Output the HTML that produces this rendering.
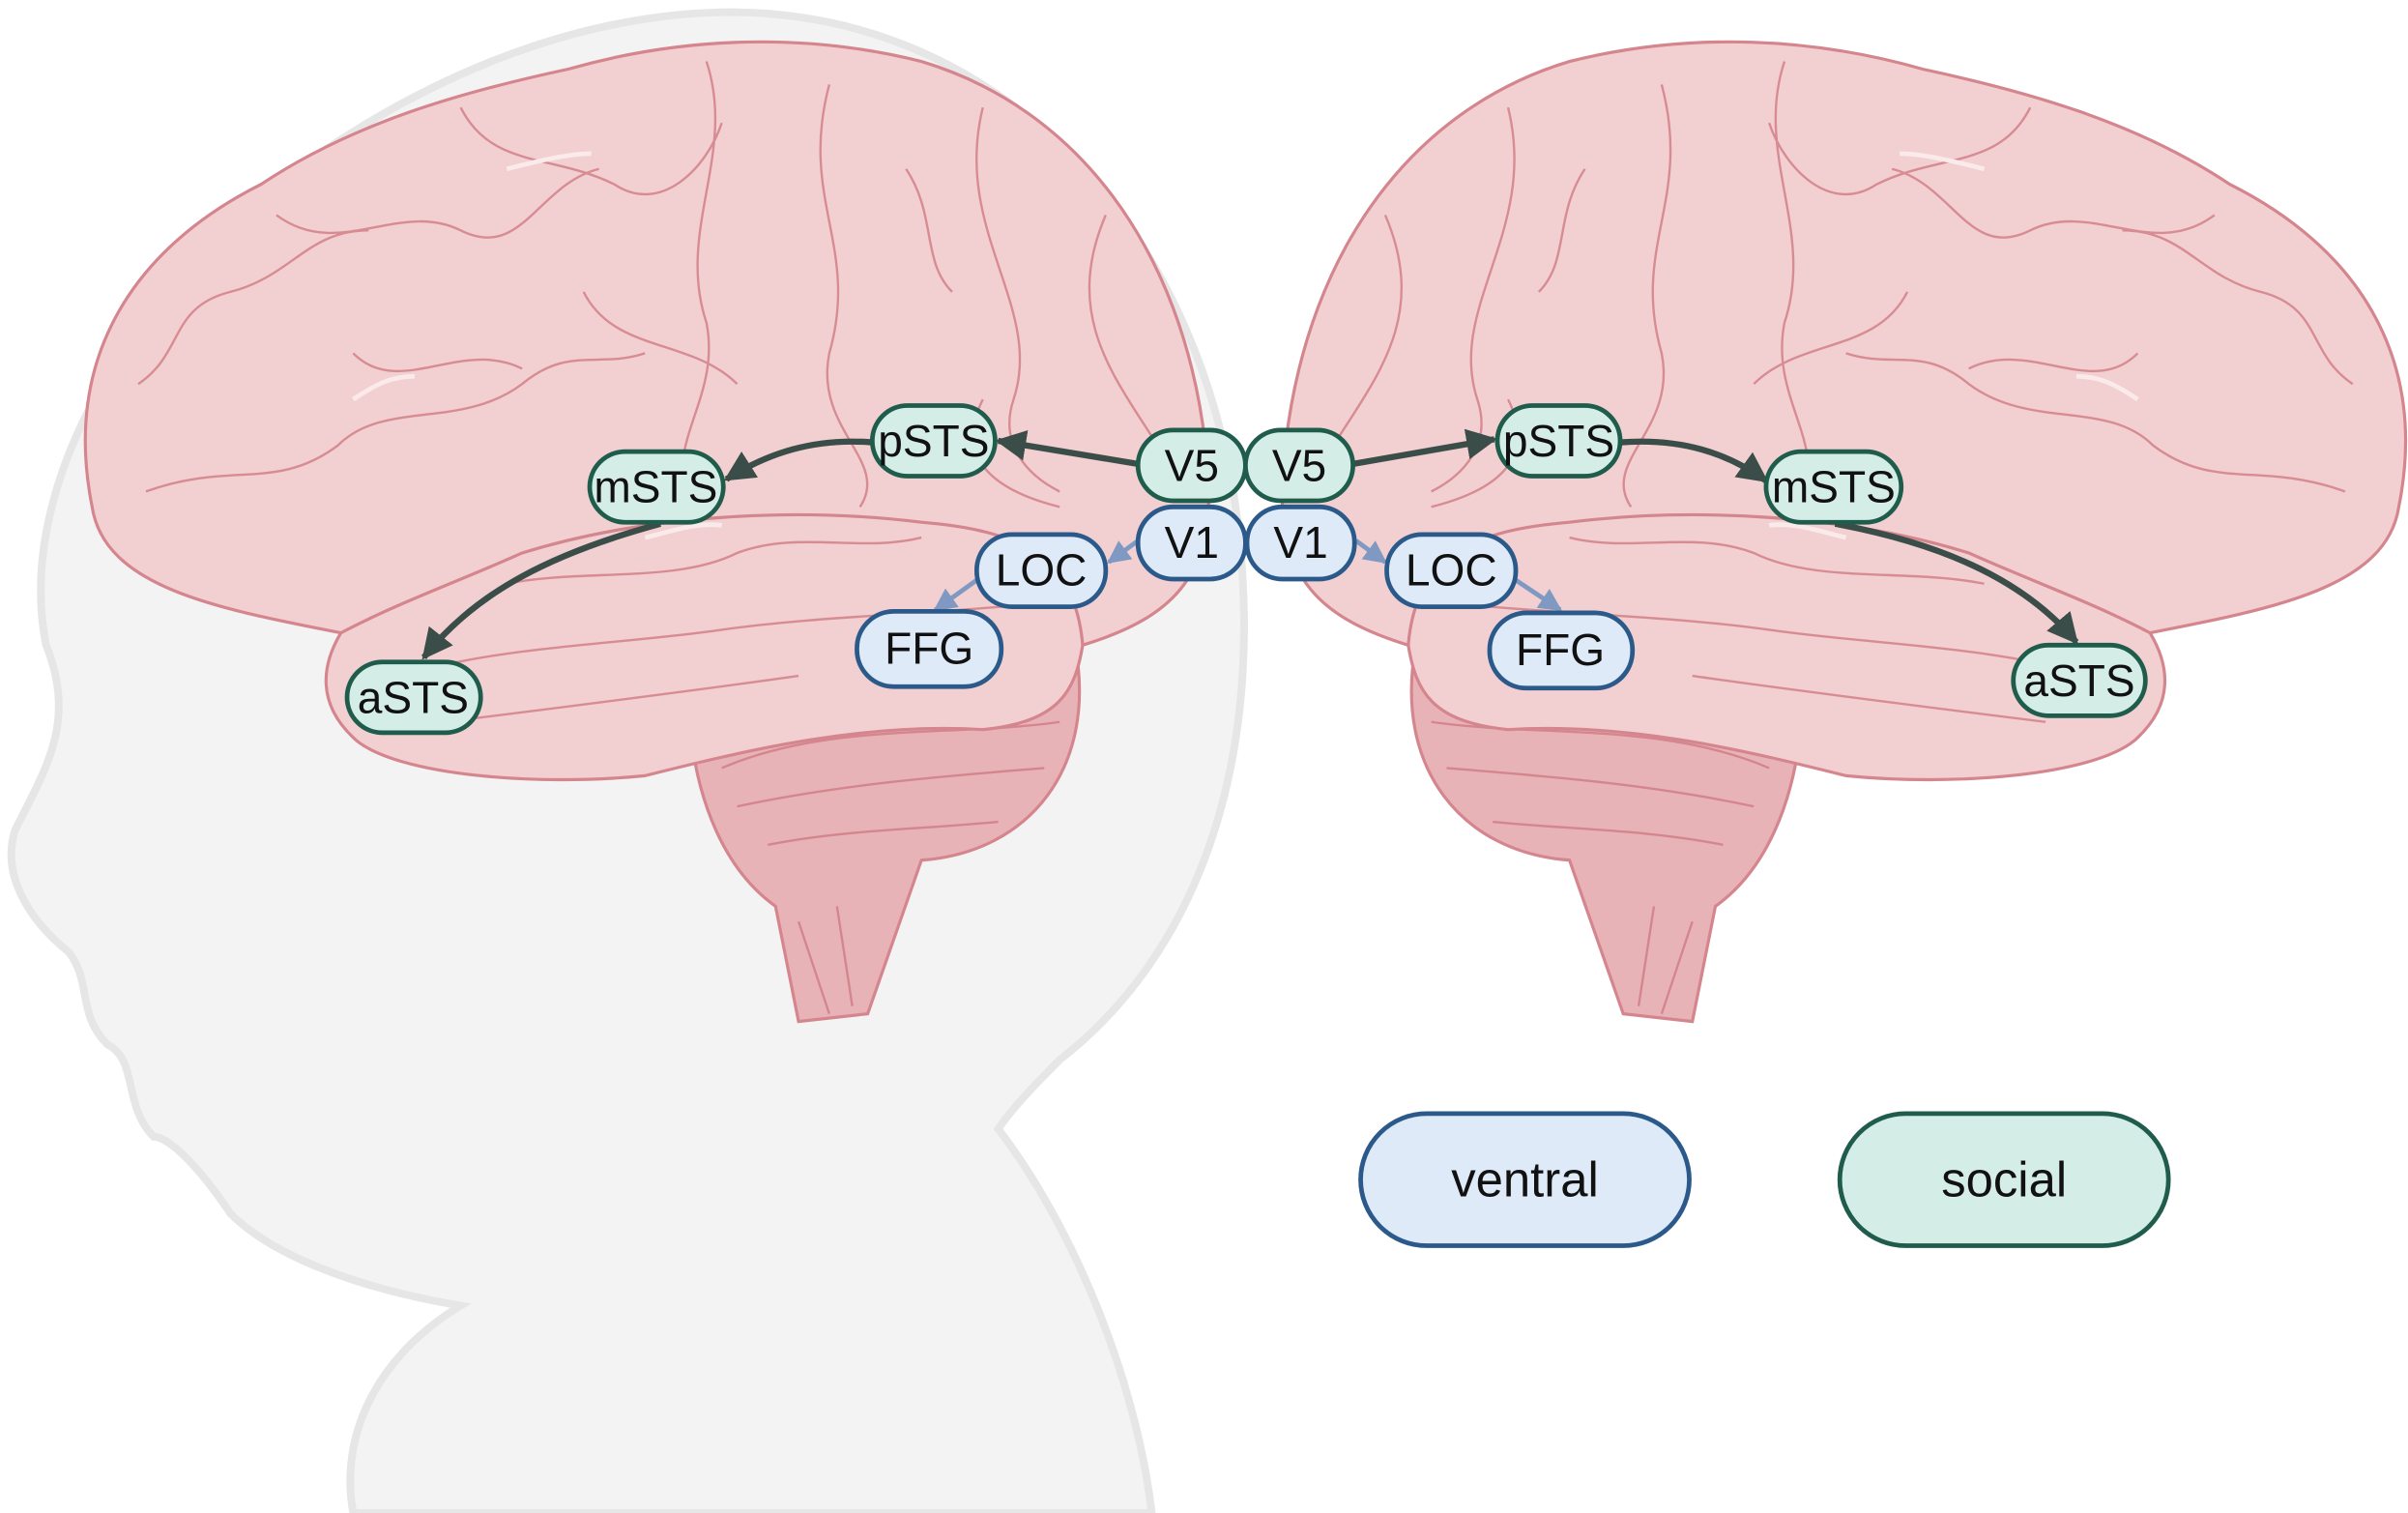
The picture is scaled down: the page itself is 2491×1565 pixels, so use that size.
<!DOCTYPE html>
<html><head><meta charset="utf-8"><style>
html,body{margin:0;padding:0;background:#fff;}
svg{display:block;}
text{font-family:"Liberation Sans",sans-serif;fill:#111;text-anchor:middle;dominant-baseline:central;}
</style></head><body>
<svg width="2491" height="1565" viewBox="0 0 1568 985" preserveAspectRatio="none" xmlns="http://www.w3.org/2000/svg">
<defs>
<marker id="ad" viewBox="0 0 10 10" refX="9" refY="5" markerWidth="5" markerHeight="5" orient="auto"><path d="M0,0 L10,5 L0,10 Z" fill="#3b4d48"/></marker>
<marker id="ab" viewBox="0 0 10 10" refX="9" refY="5" markerWidth="5" markerHeight="5" orient="auto"><path d="M0,0 L10,5 L0,10 Z" fill="#8099c2"/></marker>
<g id="brain">
  <path d="M450,480 C430,440 470,420 520,420 L700,420 C715,500 670,555 600,560 L565,660 L520,665 L505,590 C470,565 455,520 450,480 Z" fill="#e8b3b7" stroke="#d4858d" stroke-width="2"/>
  <path d="M470,500 C540,470 620,480 690,470 M480,525 C550,510 620,505 680,500 M500,550 C550,540 600,540 650,535 M520,600 L540,660 M545,590 L555,655" fill="none" stroke="#d4858d" stroke-width="1.5"/>
  <path d="M60,330 C40,230 90,160 170,120 C230,80 300,60 370,45 C440,25 520,20 600,40 C700,70 770,160 785,290 C795,370 770,400 705,420 C700,450 690,470 640,475 C560,470 480,490 420,505 C350,512 260,505 232,482 C205,458 210,432 222,412 C140,396 68,382 60,330 Z" fill="#f2cfd0" stroke="#d4858d" stroke-width="2"/>
  <path d="M222,412 C260,392 300,378 340,360 C420,335 520,330 600,340 C660,345 700,360 705,420" fill="none" stroke="#d4858d" stroke-width="2"/>
  <path d="M90,250 C120,230 110,200 150,190 C190,180 200,150 240,150 M95,320 C150,300 180,320 220,290 C250,260 300,280 340,250 C370,225 390,240 420,230 M180,140 C220,170 260,130 300,150 C340,170 350,120 390,110 M300,70 C320,110 360,100 400,120 C430,140 460,110 470,80 M460,40 C480,100 440,150 460,210 C470,260 430,290 450,330 M540,55 C520,130 560,160 540,230 C530,280 580,300 560,330 M640,70 C620,150 680,200 660,260 C650,290 670,310 690,320 M720,140 C690,210 730,250 760,300 M230,230 C260,260 300,220 340,240 M590,110 C610,140 600,170 620,190 M260,440 C330,420 400,420 470,410 C540,400 620,400 700,390 M290,470 C370,460 450,450 520,440 M330,380 C380,370 440,380 480,360 C520,345 560,360 600,350 M640,260 C620,300 650,320 690,330 M380,190 C400,230 450,220 480,250" fill="none" stroke="#d78c93" stroke-width="1.5"/>
  <path d="M330,110 C350,105 370,100 385,100 M230,260 C245,250 255,245 270,245 M420,350 C440,345 455,340 470,342" stroke="#fbeaea" stroke-width="3" fill="none"/>
</g>
</defs>
<path d="M230,985 C220,930 250,880 300,850 C240,840 180,820 150,790 C130,760 110,740 100,740 C80,720 90,690 70,680 C50,660 60,640 45,620 C20,600 0,570 10,540 C30,500 50,470 30,420 C10,320 80,200 180,120 C280,45 380,10 470,8 C650,5 790,150 808,360 C820,500 780,620 690,690 C680,700 660,720 650,735 C700,800 740,900 750,985 Z" fill="#f3f3f3" stroke="#e6e6e6" stroke-width="5"/>
<use href="#brain"/>
<use href="#brain" transform="translate(1622,0) scale(-1,1)"/>
<g stroke-width="4" fill="none" stroke="#3b4d48">
  <path d="M741,302 L650,287" marker-end="url(#ad)"/>
  <path d="M568,288 C530,285 500,295 473,312" marker-end="url(#ad)"/>
  <path d="M430,341 C360,360 310,385 276,428" marker-end="url(#ad)"/>
  <path d="M881,302 L973,286" marker-end="url(#ad)"/>
  <path d="M1055,288 C1095,285 1125,295 1150,313" marker-end="url(#ad)"/>
  <path d="M1195,341 C1270,355 1320,380 1352,418" marker-end="url(#ad)"/>
</g>
<g stroke-width="3" fill="none" stroke="#8099c2">
  <path d="M741,352 L722,366" marker-end="url(#ab)"/>
  <path d="M637,377 L609,397" marker-end="url(#ab)"/>
  <path d="M883,352 L902,366" marker-end="url(#ab)"/>
  <path d="M986,377 L1016,397" marker-end="url(#ab)"/>
</g>
<g stroke-width="3">
  <g fill="#d5ede7" stroke="#1f5c4c">
    <rect x="741" y="280" width="70" height="46" rx="23"/>
    <rect x="811" y="280" width="70" height="46" rx="23"/>
    <rect x="568" y="264" width="80" height="46" rx="23"/>
    <rect x="384" y="294" width="87" height="46" rx="23"/>
    <rect x="226" y="431" width="87" height="46" rx="23"/>
    <rect x="975" y="264" width="80" height="46" rx="23"/>
    <rect x="1150" y="294" width="88" height="46" rx="23"/>
    <rect x="1311" y="420" width="86" height="46" rx="23"/>
    <rect x="1198" y="725" width="214" height="86" rx="43"/>
  </g>
  <g fill="#deeaf7" stroke="#2b5a8a">
    <rect x="741" y="330" width="70" height="47" rx="23"/>
    <rect x="812" y="330" width="70" height="47" rx="23"/>
    <rect x="636" y="348" width="84" height="47" rx="23"/>
    <rect x="558" y="398" width="94" height="49" rx="24"/>
    <rect x="903" y="348" width="84" height="47" rx="23"/>
    <rect x="970" y="399" width="93" height="49" rx="24"/>
    <rect x="886" y="725" width="214" height="86" rx="43"/>
  </g>
</g>
<g font-size="29">
  <text x="776" y="303">V5</text><text x="846" y="303">V5</text>
  <text x="608" y="287">pSTS</text><text x="427" y="317">mSTS</text><text x="269" y="454">aSTS</text>
  <text x="1015" y="287">pSTS</text><text x="1194" y="317">mSTS</text><text x="1354" y="443">aSTS</text>
  <text x="776" y="353">V1</text><text x="847" y="353">V1</text>
  <text x="678" y="371">LOC</text><text x="605" y="422">FFG</text>
  <text x="945" y="371">LOC</text><text x="1016" y="423">FFG</text>
</g>
<g font-size="32">
  <text x="993" y="768">ventral</text><text x="1305" y="768">social</text>
</g>
</svg>
</body></html>
